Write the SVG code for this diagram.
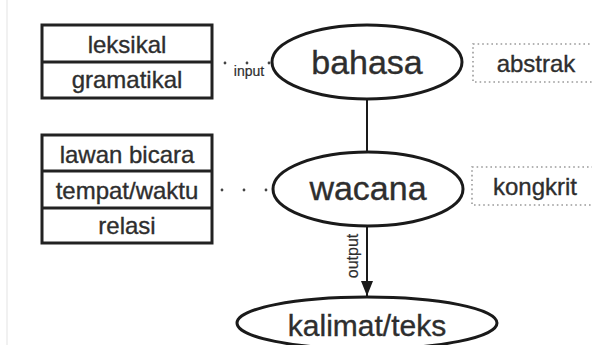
<svg xmlns="http://www.w3.org/2000/svg" width="592" height="345" viewBox="0 0 592 345">
  <defs>
    <style>
      .bg { fill: #ffffff; }
      .edge { stroke: #ececec; stroke-width: 1.5; }
      .box { fill: #ffffff; stroke: #222222; stroke-width: 3; }
      .sep { stroke: #222222; stroke-width: 3; }
      .oval { fill: #ffffff; stroke: #1a1a1a; stroke-width: 3; }
      .note { fill: #ffffff; stroke: #9a9a9a; stroke-width: 1.6; stroke-dasharray: 1.6 3; }
      .label { font-family: "Liberation Sans", Arial, sans-serif; fill: #2e2e2e; stroke: #2e2e2e; stroke-width: 0.35; text-anchor: middle; }
      .cell { font-size: 24px; }
      .big { font-size: 34px; }
      .tag { font-size: 24px; }
      .small { font-size: 14px; stroke-width: 0.2; }
      .link { stroke: #1a1a1a; stroke-width: 2; fill: none; }
      .dots { stroke: #444444; stroke-width: 2.8; stroke-linecap: round; stroke-dasharray: 0 22; fill: none; }
    </style>
    <marker id="arrow" viewBox="0 0 15 12" refX="15" refY="6" markerWidth="15" markerHeight="12" markerUnits="userSpaceOnUse" orient="auto">
      <path d="M0,0 L15,6 L0,12 Z" fill="#1a1a1a"/>
    </marker>
  </defs>

  <rect class="bg" x="0" y="0" width="592" height="345"/>
  <line class="edge" x1="7" y1="0" x2="7" y2="345"/>

  <!-- connectors -->
  <g id="connectors">
    <line class="link" x1="367" y1="99" x2="367" y2="152"/>
    <line class="link" x1="367" y1="226" x2="367" y2="296" marker-end="url(#arrow)"/>
    <path class="dots" d="M225,63 H270"/>
    <path class="dots" d="M222,190 H268"/>
    <text class="label small" x="249" y="76">input</text>
    <text class="label" style="font-size:16px;stroke-width:0.2" transform="translate(358,256) rotate(-90)" x="0" y="0">output</text>
  </g>

  <!-- language level features -->
  <g id="node-linguistic">
    <rect class="box" x="42" y="25" width="170" height="73"/>
    <line class="sep" x1="42" y1="62" x2="212" y2="62"/>
    <text class="label cell" x="127" y="53">leksikal</text>
    <text class="label cell" x="127" y="88">gramatikal</text>
  </g>

  <!-- context features -->
  <g id="node-context">
    <rect class="box" x="42" y="135" width="170" height="108"/>
    <line class="sep" x1="42" y1="171" x2="212" y2="171"/>
    <line class="sep" x1="42" y1="208" x2="212" y2="208"/>
    <text class="label cell" x="127" y="163">lawan bicara</text>
    <text class="label cell" x="127" y="199">tempat/waktu</text>
    <text class="label cell" x="127" y="234">relasi</text>
  </g>

  <g id="node-bahasa">
    <ellipse class="oval" cx="367" cy="62" rx="95" ry="37"/>
    <text class="label big" x="367" y="74">bahasa</text>
  </g>

  <g id="node-wacana">
    <ellipse class="oval" cx="368" cy="189" rx="95" ry="37"/>
    <text class="label big" x="368" y="200">wacana</text>
  </g>

  <g id="node-kalimat">
    <ellipse class="oval" cx="367" cy="323" rx="130" ry="26"/>
    <text class="label" style="font-size:30px" x="367" y="336">kalimat/teks</text>
  </g>

  <g id="node-abstrak">
    <rect class="note" x="473" y="44" width="130" height="38"/>
    <text class="label tag" x="536" y="72">abstrak</text>
  </g>

  <g id="node-kongkrit">
    <rect class="note" x="472" y="167" width="130" height="38"/>
    <text class="label tag" x="535" y="195">kongkrit</text>
  </g>
</svg>
